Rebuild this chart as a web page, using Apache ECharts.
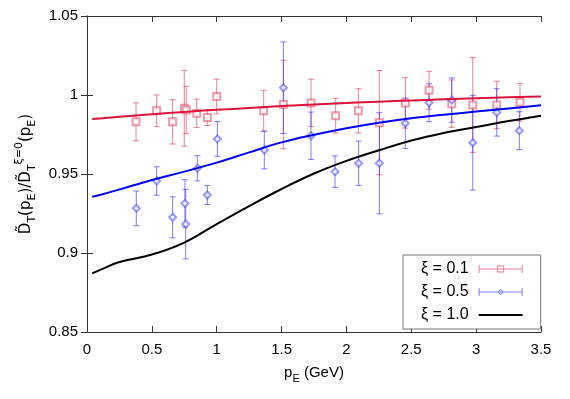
<!DOCTYPE html>
<html>
<head>
<meta charset="utf-8">
<script src="https://cdn.jsdelivr.net/npm/echarts@6/dist/echarts.min.js"></script>
<style>html,body{margin:0;padding:0;background:#fff}#c{width:570px;height:399px}</style>
</head>
<body>
<div id="c"></div>
<script>
// ξ = 0.1 data points
const redX   = [0.378, 0.537, 0.660, 0.750, 0.765, 0.846, 0.928, 1.000, 1.362, 1.514, 1.727, 1.917, 2.092, 2.254, 2.454, 2.637, 2.812, 2.974, 3.159, 3.338];
const redY   = [0.983, 0.990, 0.983, 0.9916, 0.9905, 0.9884, 0.9857, 0.999, 0.990, 0.994, 0.995, 0.9869, 0.990, 0.9825, 0.995, 1.003, 0.9945, 0.9937, 0.9937, 0.9954];
const redErr = [0.012, 0.010, 0.014, 0.024, 0.015, 0.009, 0.005, 0.011, 0.013, 0.028, 0.015, 0.011, 0.014, 0.033, 0.016, 0.012, 0.015, 0.030, 0.015, 0.012];
// ξ = 0.5 data points
const blueX   = [0.380, 0.537, 0.660, 0.755, 0.761, 0.851, 0.928, 1.005, 1.367, 1.514, 1.727, 1.912, 2.094, 2.254, 2.454, 2.637, 2.812, 2.974, 3.159, 3.333];
const blueY   = [0.9283, 0.9456, 0.9226, 0.9314, 0.9183, 0.9536, 0.9367, 0.9722, 0.9652, 1.0046, 0.9742, 0.9515, 0.9568, 0.9568, 0.9821, 0.9951, 0.9968, 0.9698, 0.989, 0.9774];
const blueErr = [0.011, 0.009, 0.013, 0.015, 0.022, 0.008, 0.006, 0.011, 0.012, 0.029, 0.015, 0.010, 0.014, 0.032, 0.016, 0.012, 0.014, 0.030, 0.015, 0.012];
// curves
const curveX     = [0.04, 0.12, 0.25, 0.5, 0.75, 1.0, 1.25, 1.5, 1.75, 2.0, 2.25, 2.5, 2.75, 3.0, 3.25, 3.5];
const redCurve   = [0.9848, 0.9853, 0.9862, 0.9878, 0.9893, 0.9906, 0.9918, 0.993, 0.994, 0.995, 0.9958, 0.9965, 0.9973, 0.998, 0.9985, 0.999];
const blueCurve  = [0.9356, 0.9372, 0.9402, 0.9462, 0.9515, 0.9572, 0.9637, 0.9700, 0.9748, 0.979, 0.9825, 0.9853, 0.9875, 0.9895, 0.9915, 0.9935];
const blackCurve = [0.8871, 0.8900, 0.8943, 0.8990, 0.9066, 0.9183, 0.9297, 0.9405, 0.9503, 0.9583, 0.9650, 0.9712, 0.9760, 0.9797, 0.9835, 0.9869];
const names = ['ξ = 0.1', 'ξ = 0.5', 'ξ = 1.0'];

const RED = '#dc143c', RED_PT = 'rgba(224,60,90,0.65)';
const BLUE = '#0000ff', BLUE_PT = 'rgba(40,40,255,0.6)';
const FONT = 'Liberation Sans';

function zip(xs, ys) { return xs.map((x, i) => [x, ys[i]]); }
function errData(xs, ys, es) { return xs.map((x, i) => [x, ys[i], es[i]]); }
function errRender(color) {
  return function (params, api) {
    const x = api.value(0), y = api.value(1), e = api.value(2);
    const hi = api.coord([x, y + e]), lo = api.coord([x, y - e]);
    const w = 3;
    const st = { stroke: color, lineWidth: 1 };
    return { type: 'group', children: [
      { type: 'line', shape: { x1: hi[0], y1: hi[1], x2: lo[0], y2: lo[1] }, style: st },
      { type: 'line', shape: { x1: hi[0] - w, y1: hi[1], x2: hi[0] + w, y2: hi[1] }, style: st },
      { type: 'line', shape: { x1: lo[0] - w, y1: lo[1], x2: lo[0] + w, y2: lo[1] }, style: st }
    ]};
  };
}
const iconRed = 'path://M0 6.5H44V7.5H0Z M0 3H1V11H0Z M43 3H44V11H43Z M18.5 3.5H25.5V10.5H18.5Z M19.5 4.5V9.5H24.5V4.5Z';
const iconBlue = 'path://M0 6.5H44V7.5H0Z M0 3H1V11H0Z M43 3H44V11H43Z M22 3.8L25.2 7L22 10.2L18.8 7Z M22 5L20 7L22 9L24 7Z';
const iconBlack = 'path://M0 6H44V8H0Z M0 3H0.01V3.01H0Z M0 11H0.01V11.01H0Z';

const fmt = v => String(parseFloat(v.toFixed(2)));
const axisCommon = {
  type: 'value',
  axisLine: { show: true, lineStyle: { color: '#333', width: 1 } },
  axisTick: { show: true, inside: true, length: 6, lineStyle: { color: '#333' } },
  splitLine: { show: false }
};

const chart = echarts.init(document.getElementById('c'), null, { renderer: 'canvas' });
chart.setOption({
  animation: false,
  backgroundColor: '#fff',
  textStyle: { fontFamily: FONT },
  grid: { left: 87, right: 29, top: 16, bottom: 67 },
  xAxis: [
    Object.assign({}, axisCommon, {
      min: 0, max: 3.5, interval: 0.5, position: 'bottom',
      axisLabel: { fontSize: 15, color: '#000', margin: 10, formatter: fmt, fontFamily: FONT },
      name: 'p{s|E} (GeV)', nameLocation: 'middle', nameGap: 30,
      nameTextStyle: { fontSize: 15, color: '#000', fontFamily: FONT, lineHeight: 22,
        rich: { s: { fontSize: 11, verticalAlign: 'bottom', lineHeight: 10, fontFamily: FONT } } }
    }),
    Object.assign({}, axisCommon, {
      min: 0, max: 3.5, interval: 0.5, position: 'top', axisLabel: { show: false }
    })
  ],
  yAxis: [
    Object.assign({}, axisCommon, {
      min: 0.85, max: 1.05, interval: 0.05, position: 'left',
      axisLabel: { fontSize: 15, color: '#000', margin: 9, formatter: fmt, fontFamily: FONT },
      name: 'D\u0303{s|T}(p{s|E})/D\u0303{s|T}{u|ξ=0}(p{s|E})', nameLocation: 'middle', nameRotate: 90, nameGap: 48,
      nameTextStyle: { fontSize: 15, color: '#000', fontFamily: 'DejaVu Sans', lineHeight: 24,
        rich: {
          s: { fontSize: 11, verticalAlign: 'bottom', lineHeight: 10, fontFamily: 'DejaVu Sans' },
          u: { fontSize: 11, verticalAlign: 'top', lineHeight: 10, fontFamily: 'DejaVu Sans' }
        } }
    }),
    Object.assign({}, axisCommon, {
      min: 0.85, max: 1.05, interval: 0.05, position: 'right', axisLabel: { show: false }
    })
  ],
  legend: {
    orient: 'vertical', align: 'right', left: 403, top: 255,
    padding: [6, 18, 6, 18], itemGap: 7, itemWidth: 44, itemHeight: 8,
    borderColor: '#777', borderWidth: 1, backgroundColor: '#fff',
    textStyle: { fontSize: 16, color: '#000', fontFamily: FONT, padding: [0, 5, 0, 0] },
    data: [
      { name: names[0], icon: iconRed, itemStyle: { color: RED_PT } },
      { name: names[1], icon: iconBlue, itemStyle: { color: BLUE_PT } },
      { name: names[2], icon: iconBlack, itemStyle: { color: '#000' } }
    ]
  },
  series: [
    { name: names[0], type: 'custom', renderItem: errRender(RED_PT), data: errData(redX, redY, redErr), z: 2, itemStyle: { color: RED_PT } },
    { name: names[0], type: 'scatter', symbol: 'emptyRect', symbolSize: 7, data: zip(redX, redY), itemStyle: { color: RED_PT, borderColor: RED_PT, borderWidth: 1 }, z: 3 },
    { name: names[1], type: 'custom', renderItem: errRender(BLUE_PT), data: errData(blueX, blueY, blueErr), z: 2, itemStyle: { color: BLUE_PT } },
    { name: names[1], type: 'scatter', symbol: 'emptyDiamond', symbolSize: 7, data: zip(blueX, blueY), itemStyle: { color: BLUE_PT, borderColor: BLUE_PT, borderWidth: 1 }, z: 3 },
    { name: 'fit01', type: 'line', data: zip(curveX, redCurve), smooth: 0.4, showSymbol: false, symbol: 'none', lineStyle: { color: RED, width: 2 }, z: 4 },
    { name: 'fit05', type: 'line', data: zip(curveX, blueCurve), smooth: 0.4, showSymbol: false, symbol: 'none', lineStyle: { color: BLUE, width: 2 }, z: 4 },
    { name: names[2], type: 'line', data: zip(curveX, blackCurve), smooth: 0.4, showSymbol: false, symbol: 'none', itemStyle: { color: '#000' }, lineStyle: { color: '#000', width: 2 }, z: 4 }
  ]
});
</script>
</body>
</html>
